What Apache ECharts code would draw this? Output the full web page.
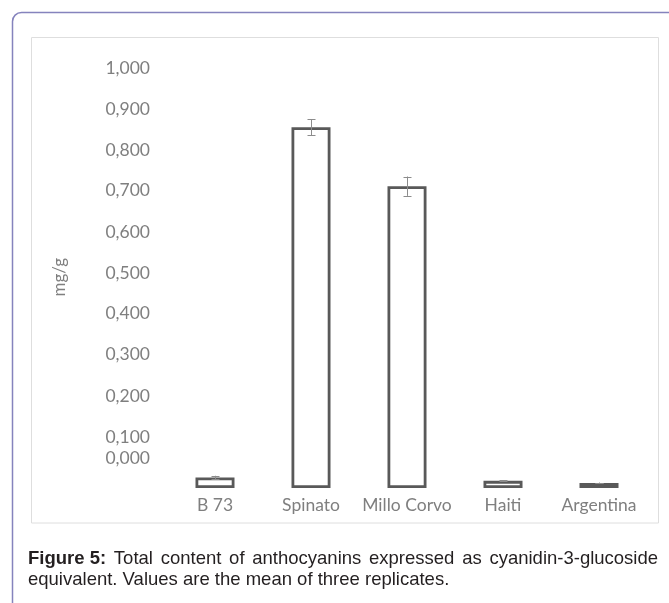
<!DOCTYPE html>
<html><head><meta charset="utf-8">
<script src="https://cdn.jsdelivr.net/npm/echarts@6/dist/echarts.min.js"></script>
<style>html,body{margin:0;padding:0;background:#fff}#c{width:669px;height:603px}</style>
</head><body><div id="c"></div>
<script>
const categories = ['B 73', 'Spinato', 'Millo Corvo', 'Haiti', 'Argentina'];
const values = [0.025, 0.856, 0.716, 0.017, 0.012];
const errors = [0.004, 0.019, 0.023, 0.001, 0.001];
const yTickLabels = ['0,000', '0,100', '0,200', '0,300', '0,400', '0,500', '0,600', '0,700', '0,800', '0,900', '1,000'];
const yAxisName = 'mg/g';
const captionBold = 'Figure 5:';
const captionLine1 = 'Total content of anthocyanins expressed as cyanidin-3-glucoside';
const captionLine2 = 'equivalent. Values are the mean of three replicates.';

// visual nudges of the tick labels (px upward), matching the pasted label placement
const labelNudge = [30, 8.85, 7.7, 7.55, 6.4, 4.25, 3.1, 2.95, 0.8, -0.35, -1.5];
const FONT = 'Lato';
const LABEL_SIZE = 17.5;
const rich = {};
labelNudge.forEach((s, i) => {
  rich['t' + i] = {
    color: '#7f7f7f', fontSize: LABEL_SIZE, fontFamily: FONT,
    padding: [Math.max(0, -2 * s), 0, Math.max(0, 2 * s), 0]
  };
});

const capFont = {fontSize: 18.5, fontFamily: 'Liberation Sans', fill: '#231f20', lineHeight: 21};
const justified = captionLine1.split(' ').map(w => '{r|' + w + '}').join('{s| }');
const captionText = '{b|' + captionBold + '}{s| }' + justified + '\n{r|' + captionLine2 + '}';

const chart = echarts.init(document.getElementById('c'), null, {renderer: 'canvas'});
chart.setOption({
  animation: false,
  backgroundColor: '#fff',
  grid: {left: 167, right: 22, top: 66.5, bottom: 115, containLabel: false, outerBoundsMode: 'none'},
  xAxis: {
    type: 'category', data: categories,
    axisLine: {show: false}, axisTick: {show: false}, splitLine: {show: false},
    axisLabel: {margin: 8, fontSize: LABEL_SIZE, color: '#7f7f7f', fontFamily: FONT, interval: 0}
  },
  yAxis: {
    type: 'value', min: 0, max: 1, interval: 0.1,
    name: yAxisName, nameLocation: 'middle', nameGap: 99,
    nameTextStyle: {color: '#7f7f7f', fontSize: 17, fontFamily: FONT},
    axisLine: {show: false}, axisTick: {show: false}, splitLine: {show: false},
    axisLabel: {
      margin: 17, fontSize: LABEL_SIZE, color: '#7f7f7f', fontFamily: FONT,
      formatter: v => { const i = Math.round(v * 10); return '{t' + i + '|' + yTickLabels[i] + '}'; },
      rich: rich
    }
  },
  series: [
    {
      type: 'bar', data: values, barWidth: 39,
      itemStyle: {color: '#ffffff', borderColor: '#595959', borderWidth: 2.8},
      emphasis: {disabled: true}
    },
    {
      type: 'custom', z: 10,
      data: values.map((v, i) => [i, v, errors[i]]),
      renderItem: (params, api) => {
        const i = api.value(0), v = api.value(1), e = api.value(2);
        const t = api.coord([i, v + e]);
        const b = api.coord([i, v - e]);
        const x = Math.round(t[0]) + 0.5;
        const st = {stroke: '#8c8c8c', lineWidth: 1};
        return {
          type: 'group', children: [
            {type: 'line', shape: {x1: x, y1: t[1], x2: x, y2: b[1]}, style: st},
            {type: 'line', shape: {x1: x - 4, y1: Math.round(t[1]) + 0.5, x2: x + 4, y2: Math.round(t[1]) + 0.5}, style: st},
            {type: 'line', shape: {x1: x - 4, y1: Math.round(b[1]) + 0.5, x2: x + 4, y2: Math.round(b[1]) + 0.5}, style: st}
          ]
        };
      }
    }
  ],
  graphic: [
    {type: 'rect', z: -10, shape: {x: 12.5, y: 12.5, width: 720, height: 720, r: 9},
     style: {fill: 'none', stroke: '#8583bd', lineWidth: 1.5}},
    {type: 'rect', z: -9, shape: {x: 31.5, y: 37.5, width: 627, height: 485.5},
     style: {fill: 'none', stroke: '#dedede', lineWidth: 1}},
    {type: 'text', left: 28, top: 548, z: 5,
     style: Object.assign({
       text: captionText,
       rich: {
         b: Object.assign({fontWeight: 'bold'}, capFont),
         r: Object.assign({}, capFont),
         s: Object.assign({padding: [0, 0, 0, 2.6]}, capFont)
       }
     }, capFont)}
  ]
});
</script></body></html>
